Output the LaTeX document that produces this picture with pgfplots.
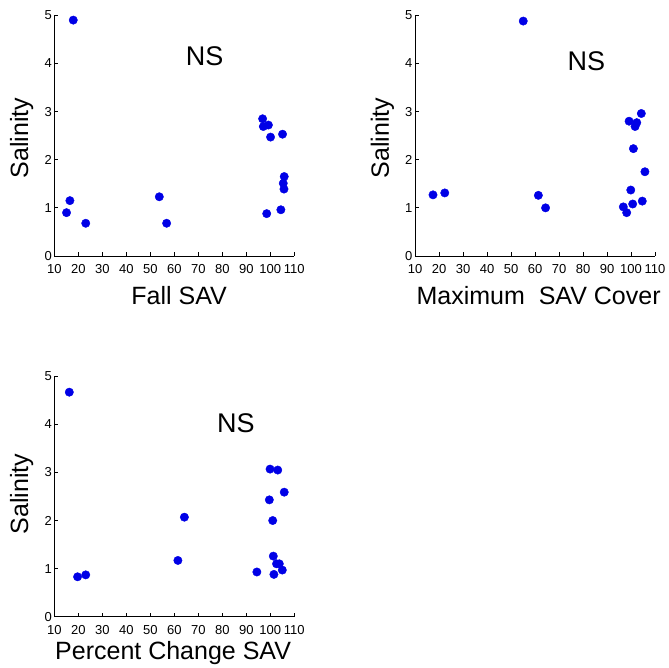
\documentclass[border=0pt]{standalone}
\usepackage{pgfplots}
\pgfplotsset{compat=1.18}
\usepackage{fontspec}
\setmainfont{Liberation Sans}
\definecolor{dotblue}{RGB}{0,0,230}
\pgfplotsset{
  salstyle/.style={
    scale only axis, width=240pt, height=240.7pt,
    xmin=10, xmax=110, ymin=0, ymax=5,
    xtick={10,20,...,110}, ytick={0,1,2,3,4,5},
    axis x line=bottom, axis y line=left,
    axis line style={-, black, line width=0.8pt},
    tick align=inside, major tick length=4pt,
    tick style={black, line width=0.8pt},
    /pgf/number format/assume math mode=true,
    tick label style={font=\fontsize{13}{15}\selectfont},
    x tick label style={yshift=-5pt},
    y tick label style={xshift=1pt},
    label style={font=\fontsize{25}{28}\selectfont},
    ylabel=Salinity,
    ylabel style={at={(axis description cs:-0.136,0.49)}, anchor=center, rotate=0},
    clip=false,
  },
  dots/.style={only marks, mark=*, mark size=4.2pt, color=dotblue, mark options={draw=dotblue, fill=dotblue}},
}
\begin{document}
\begin{tikzpicture}
\useasboundingbox (0,0) rectangle (668pt,668pt);
% Panel 1
\begin{axis}[salstyle, at={(54.3pt,412pt)},
  xlabel={Fall SAV},
  xlabel style={at={(axis description cs:0.52,-0.165)}, anchor=center}]
\addplot[dots] coordinates {
(17.9,4.90) (16.5,1.15) (15.1,0.90) (23.1,0.68) (53.75,1.23) (56.8,0.68)
(96.8,2.85) (97.1,2.69) (99.2,2.72) (100.1,2.47) (105.1,2.53)
(105.8,1.65) (105.4,1.51) (105.7,1.39) (104.4,0.96) (98.5,0.88)};
\node[font=\fontsize{27}{30}\selectfont] at (axis cs:72.6,4.16) {NS};
\end{axis}
% Panel 2
\begin{axis}[salstyle, at={(415pt,412pt)},
  xlabel={Maximum\ \ SAV Cover},
  xlabel style={at={(axis description cs:0.515,-0.165)}, anchor=center}]
\addplot[dots] coordinates {
(55.1,4.88) (17.5,1.27) (22.4,1.31) (61.4,1.26) (64.4,1.00)
(96.8,1.02) (98.2,0.90) (100.7,1.08) (99.9,1.37) (104.7,1.14)
(105.8,1.75) (101.0,2.23) (99.2,2.80) (101.7,2.69) (102.4,2.77) (104.3,2.96)};
\node[font=\fontsize{27}{30}\selectfont] at (axis cs:81.4,4.05) {NS};
\end{axis}
% Panel 3
\begin{axis}[salstyle, at={(54.3pt,51.3pt)}, height=240.4pt,
  xlabel={Percent Change SAV},
  xlabel style={at={(axis description cs:0.495,-0.15)}, anchor=center},
  ylabel style={at={(axis description cs:-0.136,0.51)}}]
\addplot[dots] coordinates {
(16.25,4.67) (19.7,0.83) (23.1,0.87) (61.5,1.17) (64.2,2.07) (94.4,0.93)
(99.6,2.43) (99.9,3.07) (103.1,3.05) (105.8,2.59) (101.0,2.00)
(101.25,1.26) (102.6,1.10) (103.75,1.10) (105.0,0.97) (101.5,0.88)};
\node[font=\fontsize{27}{30}\selectfont] at (axis cs:85.7,4.02) {NS};
\end{axis}
\end{tikzpicture}
\end{document}
